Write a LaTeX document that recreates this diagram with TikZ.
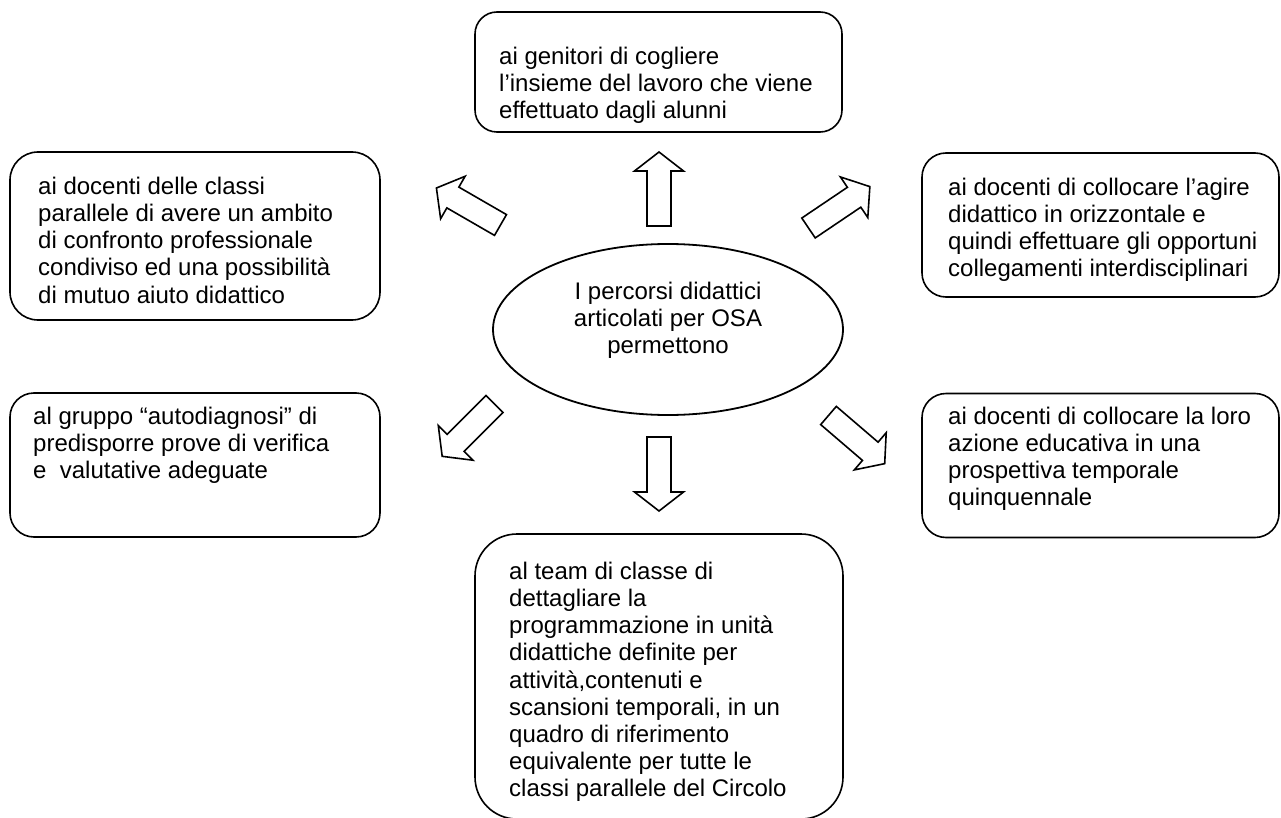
\documentclass[tikz,border=0pt]{standalone}
\usepackage{fontspec}
\setmainfont{Liberation Sans}
\usetikzlibrary{shapes.geometric}
\begin{document}
\begin{tikzpicture}[x=1pt,y=-1pt,
  box/.style={draw, line width=1.6pt, rounded corners=#1, inner sep=0pt, outer sep=0pt},
  oval/.style={draw, ellipse, line width=1.8pt, inner sep=0pt},
  txt/.style={inner sep=0pt, anchor=north west, align=left,
              font=\fontsize{24}{27.2}\selectfont},
  arrowline/.style={draw, line width=1.6pt, line join=miter, fill=white},
  blockarrow/.pic={\path[arrowline] (0,-12) -- (55,-12) -- (55,-24.5) -- (74,0)
                     -- (55,24.5) -- (55,12) -- (0,12) -- cycle;}]
\useasboundingbox (0,0) rectangle (1281,818);
\clip (0,0) rectangle (1281,818);

% central ellipse
\node[oval, minimum width=350pt, minimum height=171pt] (centre) at (668,329.5) {};
\node[txt, anchor=north, align=center] (centretext) at (668,279.96)
  {\strut I percorsi didattici\\articolati per OSA\\permettono};

% rounded boxes (centre, size)
\node[box=22pt, minimum width=367pt, minimum height=120pt] (gen) at (658.5,72) {};
\node[box=28pt, minimum width=370pt, minimum height=168pt] (doc1) at (195,236) {};
\node[box=24pt, minimum width=357pt, minimum height=144pt] (doc2) at (1100.5,225) {};
\node[box=24pt, minimum width=370pt, minimum height=144pt] (grp) at (195,465) {};
\node[box=24pt, minimum width=357pt, minimum height=144pt] (doc3) at (1100.5,465.5) {};
\node[box=42pt, minimum width=368pt, minimum height=285pt] (team) at (659,676.5) {};

% box texts
\node[txt] (gentext) at (499,44.96)
  {\strut ai genitori di cogliere\\l’insieme del lavoro che viene\\effettuato dagli alunni};
\node[txt] (doc1text) at (38,174.96)
  {\strut ai docenti delle classi\\parallele di avere un ambito\\di confronto professionale\\condiviso ed una possibilità\\di mutuo aiuto didattico};
\node[txt] (doc2text) at (948,175.96)
  {\strut ai docenti di collocare l’agire\\didattico in orizzontale e\\quindi effettuare gli opportuni\\collegamenti interdisciplinari};
\node[txt] (grptext) at (33,404.96)
  {\strut al gruppo “autodiagnosi” di\\predisporre prove di verifica\\e\ \ valutative adeguate};
\node[txt] (doc3text) at (948,404.96)
  {\strut ai docenti di collocare la loro\\azione educativa in una\\prospettiva temporale\\quinquennale};
\node[txt] (teamtext) at (509,559.96)
  {\strut al team di classe di\\dettagliare la\\programmazione in unità\\didattiche definite per\\attività,contenuti e\\scansioni temporali, in un\\quadro di riferimento\\equivalente per tutte le\\classi parallele del Circolo};

% block arrows radiating from the ellipse
\pic[rotate=90] (aup) at (659,226) {blockarrow};
\pic[rotate=-90] (adown) at (659,437) {blockarrow};
\pic[rotate=150] (aupleft) at (500.5,225) {blockarrow};
\pic[rotate=34] (aupright) at (808.5,228) {blockarrow};
\pic[rotate=225] (adownleft) at (494.5,404) {blockarrow};
\pic[rotate=-40.6] (adownright) at (828.5,415.5) {blockarrow};
\end{tikzpicture}
\end{document}
